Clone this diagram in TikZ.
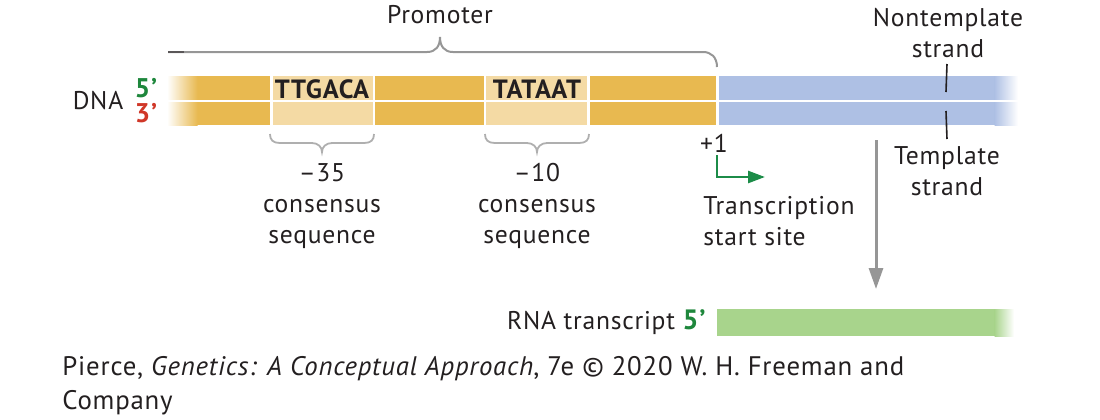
\documentclass[tikz,border=0pt]{standalone}
\usepackage{fontspec}
\setmainfont{PT Sans}[LetterSpace=3]
\usetikzlibrary{arrows.meta}
\definecolor{gold}{RGB}{232,185,80}
\definecolor{lightgold}{RGB}{244,218,164}
\definecolor{dnablue}{RGB}{174,192,228}
\definecolor{rnagreen}{RGB}{168,212,140}
\definecolor{arrowgreen}{RGB}{28,140,72}
\definecolor{fivegreen}{RGB}{30,135,60}
\definecolor{threered}{RGB}{208,55,40}
\definecolor{txt}{RGB}{35,31,32}
\definecolor{brgray}{RGB}{150,150,150}
\definecolor{lbrgray}{RGB}{175,175,175}
\begin{document}
\begin{tikzpicture}[x=0.5pt,y=-0.5pt,
  lbl/.style={font=\fontsize{12.8}{15.3}\selectfont, text=txt, inner sep=0pt, align=center},
  seqtxt/.style={font=\bfseries\fontsize{13.2}{14}\selectfont, text=txt, inner sep=0pt},
  endtxt/.style={font=\bfseries\fontsize{13.5}{14}\selectfont, inner sep=0pt, text height=9.3pt, text depth=0pt},
  capt/.style={font=\fontsize{13.4}{16.8}\selectfont, text=txt, inner sep=0pt, align=left},
  bracepath/.style={draw=brgray, line width=1pt},
  lbracepath/.style={draw=lbrgray, line width=0.9pt},
  tick/.style={draw=txt, line width=0.8pt}]
\useasboundingbox (0,0) rectangle (1100,419);

% ---- DNA double strand
\fill[gold] (197,76) rectangle (716,125);
\shade[left color=white, right color=gold] (167,76) rectangle (197.5,125);
\fill[dnablue] (719,76) rectangle (995,125);
\shade[left color=dnablue, right color=white] (994.5,76) rectangle (1018,125);
% consensus boxes
\fill[white] (270,76) rectangle (375,125);
\fill[lightgold] (272.5,76) rectangle (372.5,125);
\fill[white] (483.5,76) rectangle (589.5,125);
\fill[lightgold] (486,76) rectangle (587,125);
% strand separator
\fill[white] (167,99.6) rectangle (1018,102);

\node[seqtxt] (ttgaca) at (322,89) {TTGACA};
\node[seqtxt] (tataat) at (537,89) {TATAAT};

% ---- labels at left
\node[lbl] (dna) at (98,101) {DNA};
\node[endtxt, text=fivegreen] (five) at (146,88.5) {5’};
\node[endtxt, text=threered] (three) at (146,113) {3’};

% ---- promoter brace
\node[lbl] (promoter) at (440,15) {Promoter};
\draw[bracepath] (168,52) -- (427,52) .. controls (436,52) and (440,46) .. (440,37)
  .. controls (440,46) and (444,52) .. (453,52) -- (703,52)
  .. controls (711,52) and (717,57) .. (717,67);
\draw[draw=txt!75, line width=1pt] (168,52) -- (184,52);

% ---- consensus braces
\draw[lbracepath] (270,134) .. controls (270,140) and (273,143) .. (280,143) -- (312,143)
  .. controls (318,143) and (322,147) .. (322,152)
  .. controls (322,147) and (326,143) .. (332,143) -- (364,143)
  .. controls (371,143) and (374,140) .. (374,134);
\draw[lbracepath] (485,134) .. controls (485,140) and (488,143) .. (495,143) -- (527,143)
  .. controls (533,143) and (537,147) .. (537,152)
  .. controls (537,147) and (541,143) .. (547,143) -- (579,143)
  .. controls (586,143) and (589,140) .. (589,134);
\node[lbl] (m35) at (322,206) {–35\\consensus\\sequence};
\node[lbl] (m10) at (537,206) {–10\\consensus\\sequence};

% ---- transcription start site
\node[lbl] (plus1) at (714,143) {+1};
\coordinate (tssA) at (717,155);
\coordinate (tssB) at (717,177);
\coordinate (tssC) at (765,177);
\draw[arrowgreen, line width=1.3pt, -{Triangle[length=8.5pt,width=6pt]}] (tssA) -- (tssB) -- (tssC);
\node[lbl, align=left, anchor=west] (tss) at (703,221) {Transcription\\start site};

% ---- strand labels
\node[lbl] (nontempl) at (948,33) {Nontemplate\\strand};
\coordinate (ntA) at (947,64);
\coordinate (ntB) at (946,92);
\draw[tick] (ntA) -- (ntB);
\node[lbl] (templ) at (947,171) {Template\\strand};
\coordinate (tA) at (946,111);
\coordinate (tB) at (947,139);
\draw[tick] (tA) -- (tB);

% ---- transcription arrow
\coordinate (arrA) at (876,140);
\coordinate (arrB) at (876,289);
\draw[draw=brgray, line width=1.5pt, -{Triangle[length=10.5pt,width=7pt]}] (arrA) -- (arrB);

% ---- RNA transcript
\fill[rnagreen] (717,309) rectangle (995,336);
\shade[left color=rnagreen, right color=white] (994.5,309) rectangle (1014,336);
\node[lbl, anchor=east] (rna) at (706,322) {RNA transcript \textcolor{fivegreen}{\bfseries\fontsize{14}{14}\selectfont 5’}};

% ---- caption
\node[capt, anchor=north west] (caption) at (62,356) {Pierce, \textit{Genetics: A Conceptual Approach}, 7e © 2020 W. H. Freeman and\\Company};
\end{tikzpicture}
\end{document}
